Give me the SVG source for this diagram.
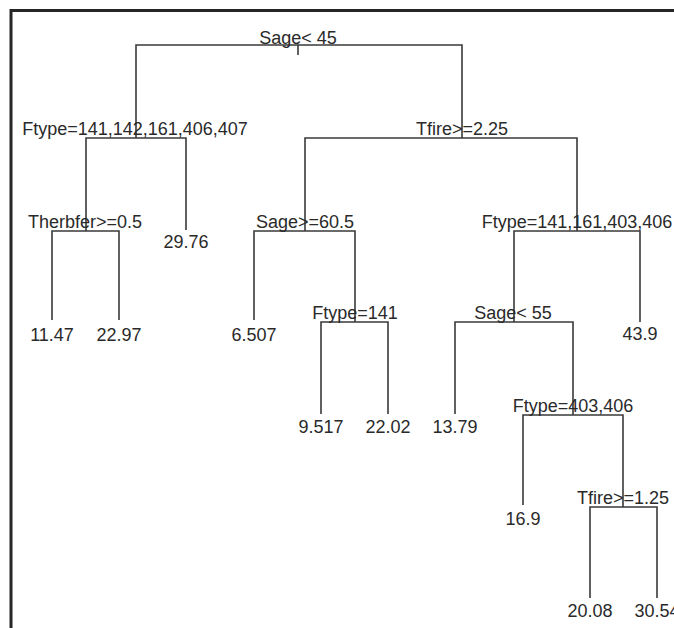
<svg xmlns="http://www.w3.org/2000/svg" width="674" height="628" viewBox="0 0 674 628">
<style>
.e{fill:none;stroke:#3a3a3a;stroke-width:1.6}
.t{font-family:"Liberation Sans",Arial,sans-serif;font-size:18px;fill:#2a2a2a;text-anchor:middle}
.b{fill:none;stroke:#262626;stroke-width:3}
</style>
<rect width="674" height="628" fill="#ffffff"/>
<path class="b" d="M11 628V10.5H674"/>
<g id="connectors">
<path class="e" d="M298 45V55"/>
<path class="e" d="M136 138V45H462V138"/>
<path class="e" d="M86 231V138H186V230"/>
<path class="e" d="M52 320V231H119V320"/>
<path class="e" d="M305 231V138H577V231"/>
<path class="e" d="M254 320V231H355V322"/>
<path class="e" d="M321 414V322H388V414"/>
<path class="e" d="M514 322V231H640V322"/>
<path class="e" d="M455 414V322H573V415"/>
<path class="e" d="M523 505V415H623V507"/>
<path class="e" d="M590 598V507H657V598"/>
</g>
<g id="n-root"><text class="t" x="298" y="44">Sage&lt; 45</text></g>
<g id="n-ftype1"><text class="t" x="135" y="135">Ftype=141,142,161,406,407</text></g>
<g id="n-tfire1"><text class="t" x="462" y="135">Tfire&gt;=2.25</text></g>
<g id="n-therbfer"><text class="t" x="85" y="228">Therbfer&gt;=0.5</text></g>
<g id="n-l2976"><text class="t" x="186" y="248">29.76</text></g>
<g id="n-sage605"><text class="t" x="305" y="228">Sage&gt;=60.5</text></g>
<g id="n-ftype2"><text class="t" x="577" y="228">Ftype=141,161,403,406</text></g>
<g id="n-l1147"><text class="t" x="52" y="341">11.47</text></g>
<g id="n-l2297"><text class="t" x="119" y="341">22.97</text></g>
<g id="n-l6507"><text class="t" x="254" y="341">6.507</text></g>
<g id="n-ftype141"><text class="t" x="355" y="319">Ftype=141</text></g>
<g id="n-sage55"><text class="t" x="513" y="319">Sage&lt; 55</text></g>
<g id="n-l439"><text class="t" x="640" y="340">43.9</text></g>
<g id="n-l9517"><text class="t" x="321" y="433">9.517</text></g>
<g id="n-l2202"><text class="t" x="388" y="433">22.02</text></g>
<g id="n-l1379"><text class="t" x="455" y="433">13.79</text></g>
<g id="n-ftype403"><text class="t" x="573" y="412">Ftype=403,406</text></g>
<g id="n-l169"><text class="t" x="523" y="525">16.9</text></g>
<g id="n-tfire2"><text class="t" x="623" y="504">Tfire&gt;=1.25</text></g>
<g id="n-l2008"><text class="t" x="590" y="617">20.08</text></g>
<g id="n-l3054"><text class="t" x="657" y="617">30.54</text></g>
</svg>
